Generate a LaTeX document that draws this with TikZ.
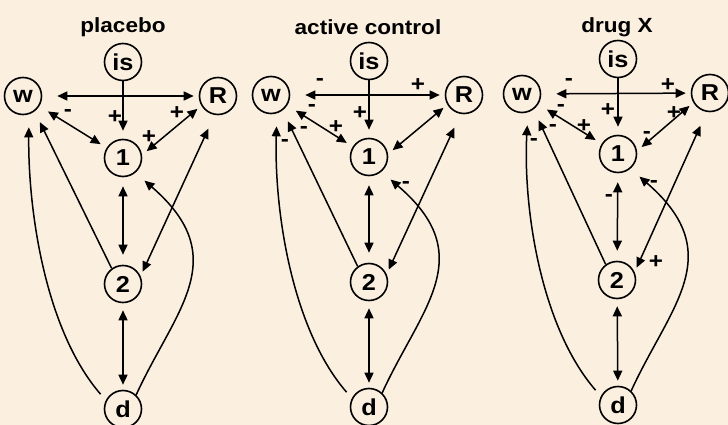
\documentclass[tikz,border=0pt]{standalone}
\usepackage{fontspec}
\setmainfont{Liberation Sans}
\newfontfamily\lbf[FakeStretch=1.1]{Liberation Sans}
\usetikzlibrary{arrows.meta,calc}
\definecolor{bg}{RGB}{251,239,224}
\tikzset{
  vnode/.style={circle, draw, line width=1.6pt, minimum size=37pt, inner sep=0pt,
    font=\lbf\bfseries\fontsize{23}{23}\selectfont},
  ttl/.style={font=\lbf\bfseries\fontsize{20.5}{20.5}\selectfont, inner sep=0pt},
  sgn/.style={font=\lbf\bfseries\fontsize{22}{22}\selectfont, inner sep=0pt},
  arr/.style={line width=1.5pt, -{Triangle[length=10pt,width=9pt]}},
  dbl/.style={line width=1.5pt, {Triangle[length=10pt,width=9pt]}-{Triangle[length=10pt,width=9pt]}},
  crv/.style={line width=1.5pt}
}
\newcommand\graphedges[1]{%
  \draw[dbl, shorten <=15pt, shorten >=5pt] (#1w) -- (#1R);
  \draw[arr, shorten >=8pt] (#1is) -- (#1one);
  \draw[dbl, shorten <=10pt, shorten >=7pt] (#1w) -- (#1one);
  \draw[dbl, shorten <=6pt, shorten >=5pt] (#1one.9) -- (#1R.210);
  \draw[arr, shorten >=12pt] (#1two.126) -- (#1w.-53);
  \draw[arr, shorten <=8pt, shorten >=13pt] (#1d.153) .. controls ($(#1d)+(-78,-79)$) and ($(#1d)+(-95,-199)$) .. (#1w.-72);
  \draw[dbl, shorten <=9pt, shorten >=10pt] (#1one) -- (#1two);
  \draw[dbl, shorten <=7pt, shorten >=5pt] (#1two) -- (#1d);
  \draw[dbl, shorten <=5pt, shorten >=15pt] (#1two.24) -- (#1R.-100);
  \draw[arr, shorten >=12pt] (#1d.47) .. controls ($(#1d)+(52,-99)$) and ($(#1d)+(111,-151)$) .. (#1one.-50);
}
\begin{document}
\begin{tikzpicture}[x=1pt,y=-1pt]
\fill[bg] (0,0) rectangle (728,425);
\useasboundingbox (0,0) rectangle (728,425);
% panel 1
\node[ttl] (at) at (123,27) {placebo};
\node[vnode] (aw) at (23,96) {w};
\node[vnode] (ais) at (123,62) {is};
\node[vnode] (aR) at (218,96) {R};
\node[vnode] (aone) at (123,158) {1};
\node[vnode] (atwo) at (123,284) {2};
\node[vnode] (ad) at (123,409) {d};
\graphedges{a}
\node[sgn] (as1) at (68,113) {-};
\node[sgn] (as2) at (115,117) {+};
\node[sgn] (as3) at (177,113) {+};
\node[sgn] (as4) at (149,137) {+};
% panel 2
\node[ttl] (bt) at (368,27) {active control};
\node[vnode] (bw) at (271,95) {w};
\node[vnode] (bis) at (369,61) {is};
\node[vnode] (bR) at (464,95) {R};
\node[vnode] (bone) at (369,157) {1};
\node[vnode] (btwo) at (369,282) {2};
\node[vnode] (bd) at (369,407) {d};
\graphedges{b}
\node[sgn] (bs1) at (320,82) {-};
\node[sgn] (bs2) at (418,85) {+};
\node[sgn] (bs3) at (312,108) {-};
\node[sgn] (bs4) at (360,113) {+};
\node[sgn] (bs5) at (336,127) {+};
\node[sgn] (bs6) at (304,130) {-};
\node[sgn] (bs7) at (285,143) {-};
\node[sgn] (bs8) at (406,185) {-};
% panel 3
\node[ttl] (ct) at (617,27) {drug X};
\node[vnode] (cw) at (522,94) {w};
\node[vnode] (cis) at (618,59) {is};
\node[vnode] (cR) at (710,93) {R};
\node[vnode] (cone) at (618,154) {1};
\node[vnode] (ctwo) at (617,280) {2};
\node[vnode] (cd) at (618,405) {d};
\graphedges{c}
\node[sgn] (cs1) at (569,82) {-};
\node[sgn] (cs2) at (668,85) {+};
\node[sgn] (cs3) at (561,108) {-};
\node[sgn] (cs4) at (608,110) {+};
\node[sgn] (cs5) at (584,126) {+};
\node[sgn] (cs6) at (674,113) {+};
\node[sgn] (cs7) at (647,135) {-};
\node[sgn] (cs8) at (553,128) {-};
\node[sgn] (cs9) at (534,142) {-};
\node[sgn] (cs10) at (654,184) {-};
\node[sgn] (cs11) at (609,198) {-};
\node[sgn] (cs12) at (656,262) {+};
\end{tikzpicture}
\end{document}
